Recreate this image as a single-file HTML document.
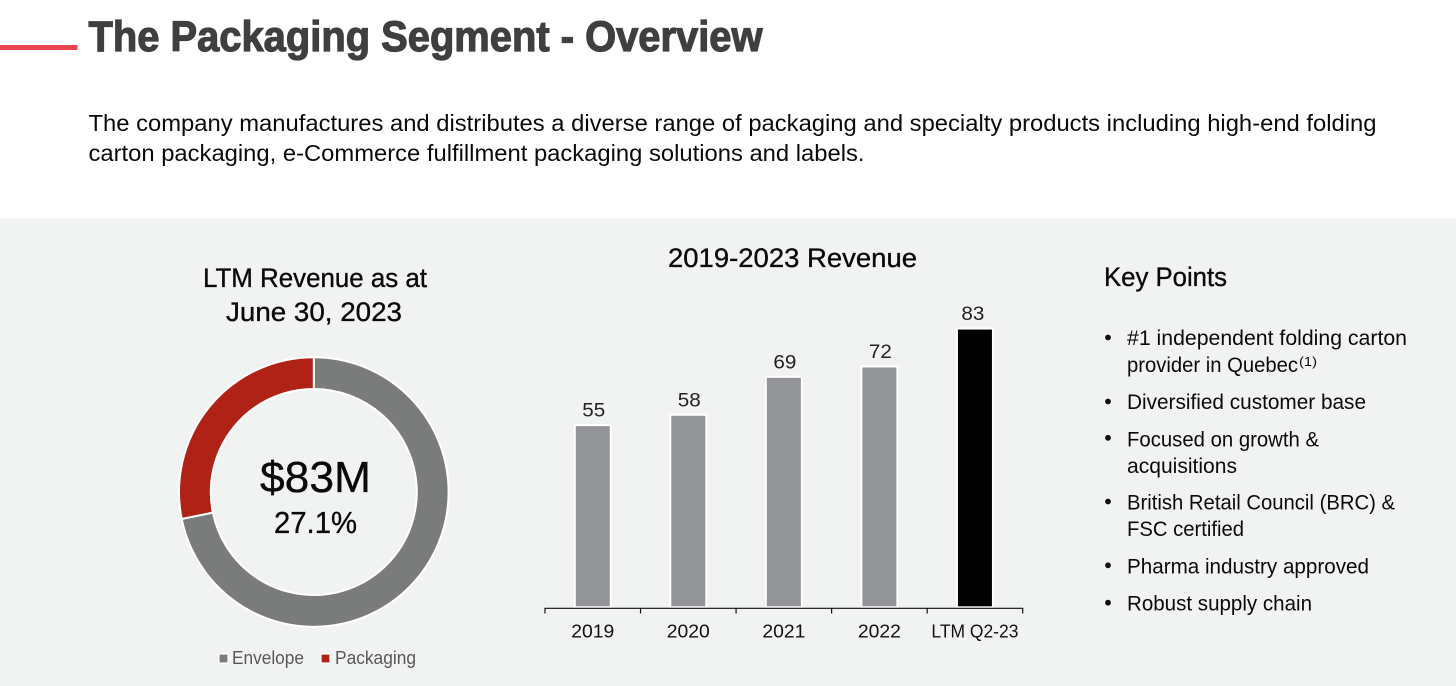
<!DOCTYPE html>
<html lang="en">
<head>
<meta charset="utf-8">
<title>The Packaging Segment - Overview</title>
<style>
html,body{margin:0;padding:0;width:1456px;height:686px;overflow:hidden;background:#fff}
svg{display:block}
text{font-family:"Liberation Sans",Arial,sans-serif;fill:#0a0a0a}
.hd{stroke:#0a0a0a;stroke-width:.35}
</style>
</head>
<body>
<svg id="slide" xmlns="http://www.w3.org/2000/svg" width="1456" height="686" viewBox="0 0 1456 686">
  <rect x="0" y="0" width="1456" height="686" fill="#ffffff"/>
  <rect x="0" y="218" width="1456" height="468" fill="#f1f3f2"/>
  <rect x="0" y="45" width="77.5" height="5" fill="#e8474f"/>
  <text x="88.5" y="51" font-size="43" font-weight="700" textLength="674" lengthAdjust="spacingAndGlyphs" style="fill:#3f3f3f;stroke:#3f3f3f;stroke-width:1.2">The Packaging Segment - Overview</text>
  <text x="88.5" y="131" font-size="23" textLength="1288" lengthAdjust="spacingAndGlyphs">The company manufactures and distributes a diverse range of packaging and specialty products including high-end folding</text>
  <text x="88.5" y="161" font-size="23" textLength="776" lengthAdjust="spacingAndGlyphs">carton packaging, e-Commerce fulfillment packaging solutions and labels.</text>

  <text class="hd" x="203" y="287" font-size="27" textLength="224" lengthAdjust="spacingAndGlyphs">LTM Revenue as at</text>
  <text class="hd" x="226" y="321" font-size="27" textLength="176" lengthAdjust="spacingAndGlyphs">June 30, 2023</text>
  <g id="donut"></g>
  <text class="hd" x="260" y="492" font-size="44" textLength="111" lengthAdjust="spacingAndGlyphs">$83M</text>
  <text class="hd" x="274" y="533" font-size="31" textLength="83" lengthAdjust="spacingAndGlyphs">27.1%</text>
  <g id="legend"></g>

  <text class="hd" x="668" y="267" font-size="27" textLength="249" lengthAdjust="spacingAndGlyphs">2019-2023 Revenue</text>
  <g id="bars"></g>

  <text class="hd" x="1104" y="286" font-size="27" textLength="123" lengthAdjust="spacingAndGlyphs">Key Points</text>
  <g font-size="21">
    <circle cx="1108" cy="337.5" r="2.9" fill="#111"/>
    <text x="1127" y="345" textLength="280" lengthAdjust="spacingAndGlyphs">#1 independent folding carton</text>
    <text x="1127" y="372" textLength="171" lengthAdjust="spacingAndGlyphs">provider in Quebec</text>
    <text x="1299" y="366" font-size="13" textLength="18" lengthAdjust="spacingAndGlyphs">(1)</text>
    <circle cx="1108" cy="401.5" r="2.9" fill="#111"/>
    <text x="1127" y="409" textLength="239" lengthAdjust="spacingAndGlyphs">Diversified customer base</text>
    <circle cx="1108" cy="437.8" r="2.9" fill="#111"/>
    <text x="1127" y="446.5" textLength="192" lengthAdjust="spacingAndGlyphs">Focused on growth &amp;</text>
    <text x="1127" y="473" textLength="110" lengthAdjust="spacingAndGlyphs">acquisitions</text>
    <circle cx="1108" cy="501.5" r="2.9" fill="#111"/>
    <text x="1127" y="509.5" textLength="268" lengthAdjust="spacingAndGlyphs">British Retail Council (BRC) &amp;</text>
    <text x="1127" y="536" textLength="117" lengthAdjust="spacingAndGlyphs">FSC certified</text>
    <circle cx="1108" cy="565.3" r="2.9" fill="#111"/>
    <text x="1127" y="573.5" textLength="242" lengthAdjust="spacingAndGlyphs">Pharma industry approved</text>
    <circle cx="1108" cy="602.7" r="2.9" fill="#111"/>
    <text x="1127" y="610.5" textLength="185" lengthAdjust="spacingAndGlyphs">Robust supply chain</text>
  </g>
</svg>
<script>
var categories = ['2019', '2020', '2021', '2022', 'LTM Q2-23'];
var revenueValues = [55, 58, 69, 72, 83];
var segmentNames = ['Envelope', 'Packaging'];
var segmentShares = [71.8, 28.2];

var NS = 'http://www.w3.org/2000/svg';
function make(tag, parent, props) {
  var el = document.createElementNS(NS, tag);
  for (var k in props) { el.setAttribute(k, props[k]); }
  parent.appendChild(el);
  return el;
}

/* bar chart axis functions */
var plotLeft = 545, plotRight = 1022.7, baseY = 607.3, axisY = 608.3;
var yMin = 2.2, pxPerUnit = 3.45, barWidth = 36;
function xCenter(i) { return plotLeft + (plotRight - plotLeft) * (i + 0.5) / categories.length; }
function yPos(v) { return baseY - (v - yMin) * pxPerUnit; }

var bars = document.getElementById('bars');
categories.forEach(function (cat, i) {
  var v = revenueValues[i];
  var isLast = i === categories.length - 1;
  var bar = make('rect', bars, {
    x: xCenter(i) - barWidth / 2, y: yPos(v), width: barWidth, height: baseY - yPos(v),
    fill: isLast ? '#000000' : '#939497', stroke: '#ffffff', 'stroke-width': 2
  });
  
  

  var val = make('text', bars, {
    x: xCenter(i) + (isLast ? -2 : 1), y: yPos(v) - 8.5, 'font-size': 19, 'text-anchor': 'middle',
    textLength: 23, lengthAdjust: 'spacingAndGlyphs', style: 'fill:#222'
  });
  val.textContent = String(v);
  
  

  var lab = make('text', bars, {
    x: xCenter(i), y: 637.5, 'font-size': 18.5, 'text-anchor': 'middle',
    textLength: isLast ? 87 : 43, lengthAdjust: 'spacingAndGlyphs', style: 'fill:#111'
  });
  lab.textContent = cat;
  
  
});

var axis = make('line', bars, { x1: plotLeft - 0.5, x2: plotRight + 0.5, y1: axisY, y2: axisY, stroke: '#111', 'stroke-width': 1.2 });


for (var t = 0; t <= categories.length; t++) {
  var tx = plotLeft + (plotRight - plotLeft) * t / categories.length;
  var tick = make('line', bars, { x1: tx, x2: tx, y1: axisY, y2: 613.5, stroke: '#111', 'stroke-width': 1.2 });
  
  
}

/* donut */
var cx = 313.8, cy = 492, rOuter = 134.8, rInner = 103;
var segmentColors = ['#7a7c7b', '#b02116'];
var total = segmentShares.reduce(function (a, b) { return a + b; }, 0);
function pt(r, a) { return [cx + r * Math.sin(a), cy - r * Math.cos(a)]; }
var donut = document.getElementById('donut');
var start = 0;
segmentShares.forEach(function (s, i) {
  var end = start + s / total * Math.PI * 2;
  var large = (end - start) > Math.PI ? 1 : 0;
  var a = pt(rOuter, start), b = pt(rOuter, end), c = pt(rInner, end), d = pt(rInner, start);
  var path = make('path', donut, {
    d: 'M' + a[0] + ' ' + a[1] + 'A' + rOuter + ' ' + rOuter + ' 0 ' + large + ' 1 ' + b[0] + ' ' + b[1] +
       'L' + c[0] + ' ' + c[1] + 'A' + rInner + ' ' + rInner + ' 0 ' + large + ' 0 ' + d[0] + ' ' + d[1] + 'Z',
    fill: segmentColors[i], stroke: '#ffffff', 'stroke-width': 2
  });
  
  
  start = end;
});

/* legend */
var legend = document.getElementById('legend');
var legendSwatchX = [219, 321];
var legendTextX = [232, 335];
var legendTextW = [72, 81];
segmentNames.forEach(function (name, i) {
  var sw = make('rect', legend, { x: legendSwatchX[i], y: 654, width: 9, height: 9, fill: segmentColors[i], stroke: '#ffffff', 'stroke-width': 1.2 });
  
  
  var tx = make('text', legend, { x: legendTextX[i], y: 664, 'font-size': 18.5, textLength: legendTextW[i], lengthAdjust: 'spacingAndGlyphs', style: 'fill:#575757' });
  tx.textContent = name;
  
  
});
</script>
</body>
</html>
